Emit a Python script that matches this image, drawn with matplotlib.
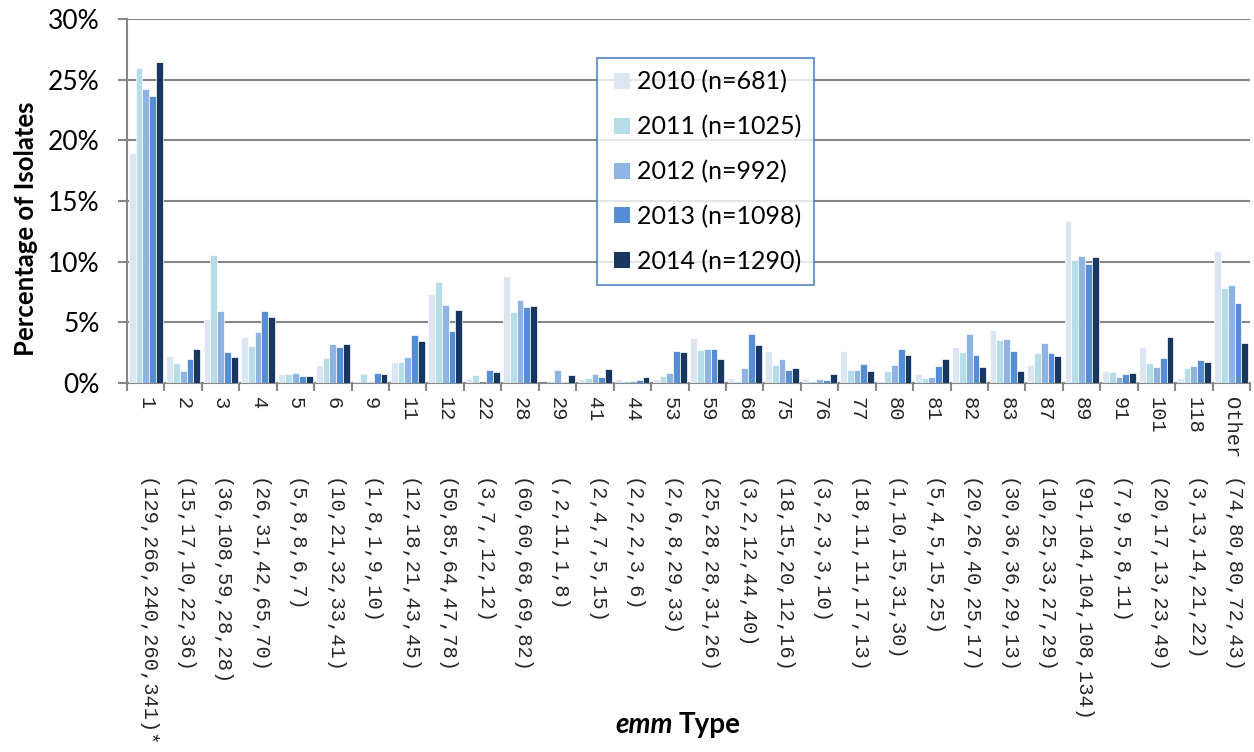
import matplotlib
matplotlib.use("Agg")
import matplotlib.pyplot as plt
from matplotlib.lines import Line2D
import numpy as np

# emm types and isolate counts per year (None = not reported that year)
emm_types = ["1", "2", "3", "4", "5", "6", "9", "11", "12", "22", "28", "29",
             "41", "44", "53", "59", "68", "75", "76", "77", "80", "81", "82",
             "83", "87", "89", "91", "101", "118", "Other"]
type_notes = {"1": "*"}

counts_2010 = [129, 15, 36, 26, 5, 10, 1, 12, 50, 3, 60, None, 2, 2, 2, 25, 3,
               18, 3, 18, 1, 5, 20, 30, 10, 91, 7, 20, 3, 74]
counts_2011 = [266, 17, 108, 31, 8, 21, 8, 18, 85, 7, 60, 2, 4, 2, 6, 28, 2,
               15, 2, 11, 10, 4, 26, 36, 25, 104, 9, 17, 13, 80]
counts_2012 = [240, 10, 59, 42, 8, 32, 1, 21, 64, None, 68, 11, 7, 2, 8, 28,
               12, 20, 3, 11, 15, 5, 40, 36, 33, 104, 5, 13, 14, 80]
counts_2013 = [260, 22, 28, 65, 6, 33, 9, 43, 47, 12, 69, 1, 5, 3, 29, 31, 44,
               12, 3, 17, 31, 15, 25, 29, 27, 108, 8, 23, 21, 72]
counts_2014 = [341, 36, 28, 70, 7, 41, 10, 45, 78, 12, 82, 8, 15, 6, 33, 26,
               40, 16, 10, 13, 30, 25, 17, 13, 29, 134, 11, 49, 22, 43]

years = ["2010", "2011", "2012", "2013", "2014"]
totals = [681, 1025, 992, 1098, 1290]
series_counts = [counts_2010, counts_2011, counts_2012, counts_2013, counts_2014]
colors = ["#DCE6F2", "#B7DEE8", "#8EB4E3", "#558ED5", "#17375E"]

plt.rcParams["font.family"] = ["Lato", "DejaVu Sans"]

fig = plt.figure(figsize=(12.54, 7.52), dpi=100)
ax = fig.add_axes([0.1013, 0.4907, 0.8955, 0.4840])

n_types = len(emm_types)
x = np.arange(n_types)
group_w = 0.91
bar_w = group_w / len(years)

handles = []
for k, (yr, n, cnts, col) in enumerate(zip(years, totals, series_counts, colors)):
    pct = np.array([(c if c is not None else 0) / n * 100 for c in cnts])
    offs = -group_w / 2 + bar_w * (k + 0.5)
    ax.bar(x + offs, pct, width=bar_w, color=col, edgecolor="white",
           linewidth=0.5, zorder=3)
    handles.append(Line2D([], [], linestyle="", marker="s", markersize=11.5,
                          markeredgewidth=0, color=col, label=f"{yr} (n={n})"))

ax.set_xlim(-0.5, n_types - 0.5)
ax.set_ylim(0, 30)
ax.set_yticks(np.arange(0, 31, 5))
ax.set_yticklabels([f"{v}%" for v in range(0, 31, 5)], fontsize=19)
ax.yaxis.grid(True, color="#878787", linewidth=1.5, zorder=0)
ax.set_axisbelow(True)

for side in ("top", "right"):
    ax.spines[side].set_visible(False)
for side in ("left", "bottom"):
    ax.spines[side].set_color("#878787")
    ax.spines[side].set_linewidth(1.5)
ax.tick_params(axis="y", length=6.5, width=1.5, color="#878787", pad=13)

# category labels below the axis, boundary tick marks between groups
ax.set_xticks(x)
ax.set_xticklabels(emm_types, rotation=-90, va="top", ha="center",
                   family="Liberation Mono", fontsize=14.7, color="#262626")
ax.tick_params(axis="x", which="major", length=0, pad=10)
ax.set_xticks(np.arange(-0.5, n_types, 1.0), minor=True)
ax.tick_params(axis="x", which="minor", length=6, width=1.5, color="#878787")

for i, t in enumerate(emm_types):
    parts = [str(c[i]) if c[i] is not None else "" for c in series_counts]
    label = "(" + ",".join(parts) + ")" + type_notes.get(t, "")
    ax.annotate(label, xy=(i, 0), xycoords=("data", "axes fraction"),
                xytext=(0, -68.5), textcoords="offset points",
                rotation=-90, va="top", ha="center", color="#262626",
                family="Liberation Mono", fontsize=14.7)

ax.set_ylabel("Percentage of Isolates", fontsize=18.5, fontweight="bold")
ax.yaxis.set_label_coords(-0.079, 0.425)

# x-axis title with italic gene name
fig.text(0.5365, 0.025, "emm", fontsize=20, fontweight="bold",
         fontstyle="italic", ha="right", va="baseline")
fig.text(0.5410, 0.025, "Type", fontsize=20, fontweight="bold",
         ha="left", va="baseline")

leg = ax.legend(handles=handles, loc="upper left",
                bbox_to_anchor=(0.4185, 0.893), borderaxespad=0, fontsize=18,
                frameon=True, fancybox=False, edgecolor="#4F81BD",
                handlelength=1.0, handletextpad=0.12, labelspacing=0.86,
                borderpad=0.5)
leg.get_frame().set_linewidth(1.5)
leg.set_zorder(5)

fig.savefig("out.png", dpi=100)
